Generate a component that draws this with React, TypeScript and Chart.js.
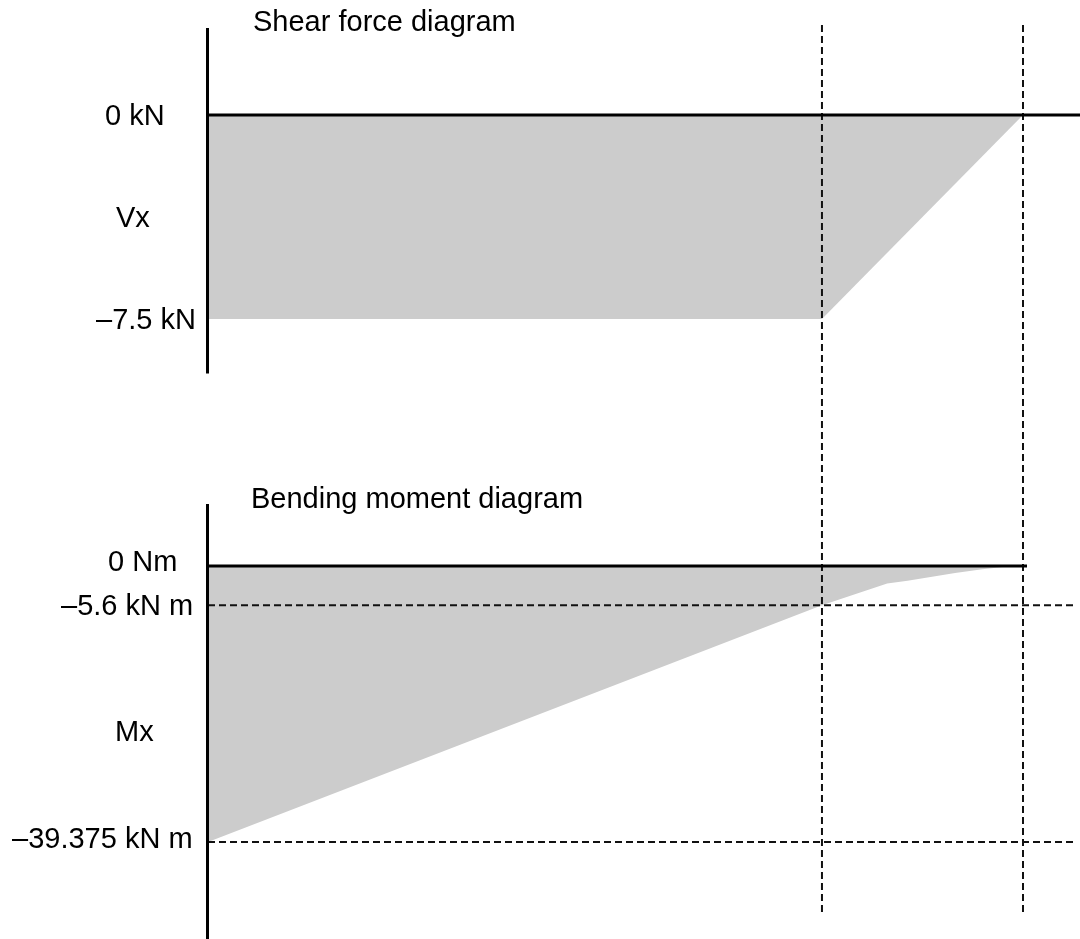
import React, { useEffect, useRef } from "react";
import { Chart, registerables } from "chart.js";

Chart.register(...registerables);

// Beam positions (m) and values
const shearX = [0, 4.52, 6];
const shearV = [-7.5, -7.5, 0];

const momentX = [0, 4.52, 5, 5.15, 5.5, 5.7, 5.85, 6];
const momentM = [-39.375, -5.6, -2.5, -2.1, -1.0, -0.47, -0.15, 0];

const shearTicks = [0, -7.5];
const shearTickLabels = ["0 kN", "\u20137.5 kN"];
const momentTicks = [0, -5.6, -39.375];
const momentTickLabels = ["0 Nm", "\u20135.6 kN m", "\u201339.375 kN m"];

const shearTitle = "Shear force diagram";
const momentTitle = "Bending moment diagram";
const shearAxisName = "Vx";
const momentAxisName = "Mx";

const FONT = "29px 'Liberation Sans', Arial, sans-serif";

const decorPlugin = {
  id: "beamDecor",
  afterDatasetsDraw(chart: any) {
    const ctx = chart.ctx as CanvasRenderingContext2D;
    const xs = chart.scales.x;
    const yV = chart.scales.yV;
    const yM = chart.scales.yM;
    const area = chart.chartArea;
    const x0 = xs.getPixelForValue(0);
    const xEnd = xs.getPixelForValue(6);
    const xKink = xs.getPixelForValue(shearX[1]);
    ctx.save();

    // dashed verticals
    ctx.strokeStyle = "#111";
    ctx.lineWidth = 2;
    ctx.setLineDash([7, 4]);
    [xKink, xEnd].forEach((px) => {
      ctx.beginPath();
      ctx.moveTo(px, area.top);
      ctx.lineTo(px, area.bottom);
      ctx.stroke();
    });
    // dashed horizontals in moment diagram
    [momentTicks[1], momentTicks[2]].forEach((v) => {
      const py = yM.getPixelForValue(v);
      ctx.beginPath();
      ctx.moveTo(x0, py);
      ctx.lineTo(1075, py);
      ctx.stroke();
    });
    ctx.setLineDash([]);

    // zero lines
    ctx.strokeStyle = "#000";
    ctx.lineWidth = 3;
    ctx.beginPath();
    ctx.moveTo(x0, yV.getPixelForValue(0));
    ctx.lineTo(chart.width, yV.getPixelForValue(0));
    ctx.stroke();
    ctx.beginPath();
    ctx.moveTo(x0, yM.getPixelForValue(0));
    ctx.lineTo(xEnd + 4, yM.getPixelForValue(0));
    ctx.stroke();

    // vertical axis lines
    ctx.lineWidth = 3;
    ctx.beginPath();
    ctx.moveTo(x0 - 0.5, yV.getPixelForValue(3.2));
    ctx.lineTo(x0 - 0.5, yV.getPixelForValue(-9.5));
    ctx.stroke();
    ctx.beginPath();
    ctx.moveTo(x0 - 0.5, yM.getPixelForValue(8.85));
    ctx.lineTo(x0 - 0.5, yM.getPixelForValue(-53.5));
    ctx.stroke();

    // texts
    ctx.fillStyle = "#000";
    ctx.font = FONT;
    ctx.textAlign = "left";
    ctx.textBaseline = "middle";
    ctx.fillText(shearTitle, 253, 23);
    ctx.fillText(momentTitle, 251, 500);

    const vLeft = [105, 96];
    shearTicks.forEach((v, i) => {
      ctx.fillText(shearTickLabels[i], vLeft[i], yV.getPixelForValue(v) + 2);
    });
    ctx.fillText(shearAxisName, 116, yV.getPixelForValue(-3.75) + 2);

    const mLeft = [108, 61, 12];
    const mOff = [-3, 2, -2];
    momentTicks.forEach((v, i) => {
      ctx.fillText(momentTickLabels[i], mLeft[i], yM.getPixelForValue(v) + mOff[i]);
    });
    ctx.fillText(momentAxisName, 115, 733);

    ctx.restore();
  },
};

export default function App() {
  const ref = useRef<HTMLCanvasElement | null>(null);
  useEffect(() => {
    document.body.style.margin = "0";
    const canvas = ref.current;
    if (!canvas) return;
    const chart = new Chart(canvas, {
      type: "line",
      data: {
        datasets: [
          {
            data: shearX.map((x, i) => ({ x, y: shearV[i] })),
            yAxisID: "yV",
            fill: "origin",
            backgroundColor: "#cccccc",
            borderWidth: 0,
            borderColor: "rgba(0,0,0,0)",
            pointRadius: 0,
            tension: 0,
          },
          {
            data: momentX.map((x, i) => ({ x, y: momentM[i] })),
            yAxisID: "yM",
            fill: "origin",
            backgroundColor: "#cccccc",
            borderWidth: 0,
            borderColor: "rgba(0,0,0,0)",
            pointRadius: 0,
            tension: 0,
          },
        ],
      },
      options: {
        animation: false,
        responsive: false,
        devicePixelRatio: 1,
        layout: { padding: { left: 208, right: 57, top: 25, bottom: 26 } },
        plugins: { legend: { display: false }, tooltip: { enabled: false } },
        events: [],
        scales: {
          x: { type: "linear", min: 0, max: 6, display: false },
          yV: { type: "linear", min: -29.338, max: 3.309, display: false },
          yM: { type: "linear", min: -49.5, max: 77.18, display: false },
        },
      },
      plugins: [decorPlugin],
    });
    return () => chart.destroy();
  }, []);
  return (
    <div style={{ position: "absolute", left: 0, top: 0, width: 1080, height: 939, background: "#fff" }}>
      <canvas ref={ref} width={1080} height={939} style={{ display: "block" }} />
    </div>
  );
}
